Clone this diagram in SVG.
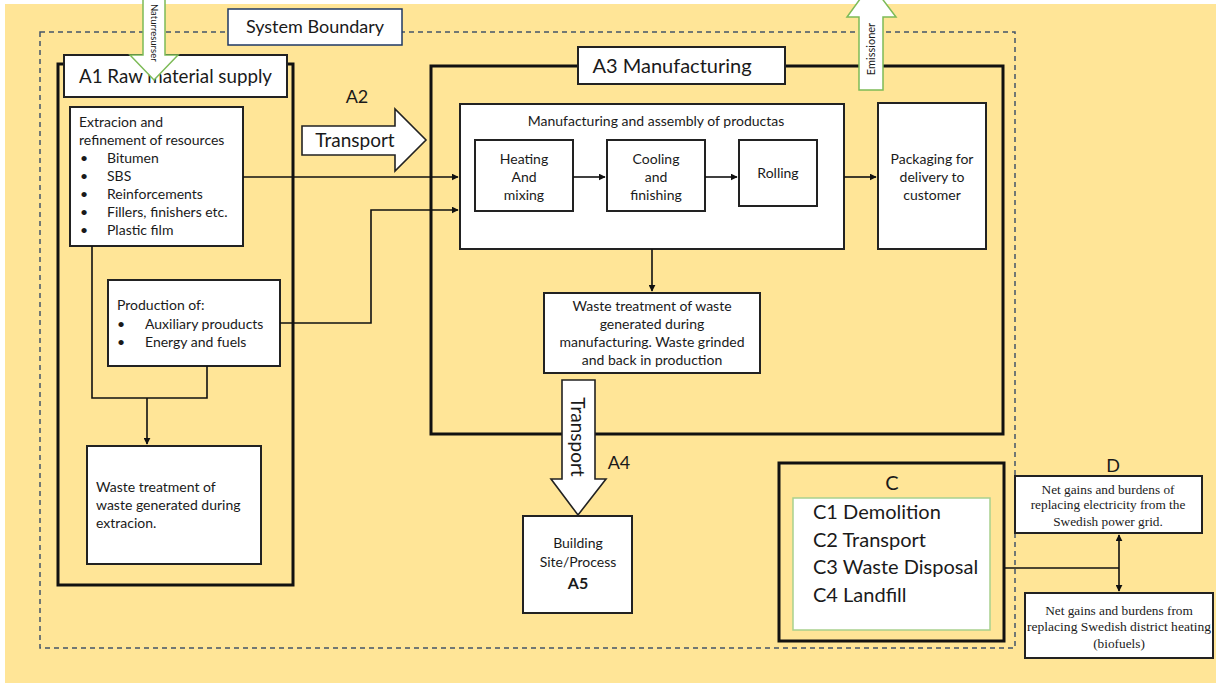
<svg xmlns="http://www.w3.org/2000/svg" width="1216" height="683" viewBox="0 0 1216 683">
<defs>
<style>
.t{font-family:Lato,"Liberation Sans",sans-serif;fill:#1a1a1a}
.b{font-size:14px}
.s{font-family:"Liberation Serif",serif;fill:#1a1a1a;font-size:13.3px}
.box{fill:#fff;stroke:#222;stroke-width:2}
.big{fill:none;stroke:#111;stroke-width:3}
.ln{fill:none;stroke:#111;stroke-width:1.6}
.blk{fill:#fff;stroke:#222;stroke-width:1.6}
.grn{fill:#fff;stroke:#7dbb57;stroke-width:1.5}
</style>
<marker id="ah" viewBox="0 0 10 10" refX="9" refY="5" markerWidth="7" markerHeight="7" markerUnits="userSpaceOnUse" orient="auto-start-reverse"><path d="M0,0 L10,5 L0,10 z" fill="#111"/></marker>
</defs>
<rect x="0" y="0" width="1216" height="683" fill="#fff"/>
<rect x="5" y="4" width="1211" height="679" fill="#ffe597"/>
<rect id="system-boundary" x="40" y="32" width="975" height="616" fill="none" stroke="#44546a" stroke-width="1.5" stroke-dasharray="5 4"/>
<g id="boundary-label"><rect x="228" y="9" width="174" height="36" fill="#fff" stroke="#1f3864" stroke-width="1.5"/><text class="t" x="315" y="33" font-size="18" text-anchor="middle">System Boundary</text></g>

<g id="A1">
<rect class="big" x="58" y="64" width="235" height="521"/>
<rect class="box" x="64" y="55" width="223" height="42"/>
<text class="t" x="79" y="83" font-size="19" textLength="193" lengthAdjust="spacingAndGlyphs">A1 Raw material supply</text>
</g>
<g id="extraction"><rect class="box" x="70" y="107" width="173" height="139" stroke-width="1.6"/>
<g class="t b"><text x="79" y="127">Extracion and</text><text x="79" y="145">refinement of resources</text>
<text x="80" y="163">•</text><text x="107" y="163">Bitumen</text>
<text x="80" y="181">•</text><text x="107" y="181">SBS</text>
<text x="80" y="199">•</text><text x="107" y="199">Reinforcements</text>
<text x="80" y="217">•</text><text x="107" y="217">Fillers, finishers etc.</text>
<text x="80" y="235">•</text><text x="107" y="235">Plastic film</text></g></g>
<g id="production"><rect class="box" x="108" y="280" width="172" height="86" stroke-width="1.6"/>
<g class="t b"><text x="117" y="310">Production of:</text>
<text x="117" y="329">•</text><text x="145" y="329">Auxiliary prouducts</text>
<text x="117" y="347">•</text><text x="145" y="347">Energy and fuels</text></g></g>
<g id="waste-extraction"><rect class="box" x="87" y="446" width="174" height="118" stroke-width="1.6"/>
<g class="t b"><text x="96" y="492">Waste treatment of</text><text x="96" y="510">waste generated during</text><text x="96" y="528">extracion.</text></g></g>

<g id="A2-transport">
<text class="t" x="357" y="103" font-size="18" text-anchor="middle">A2</text>
<path class="blk" d="M302,126 L395,126 L395,109 L426,140 L395,171 L395,155 L302,155 z"/>
<text class="t" x="355" y="147" font-size="19" text-anchor="middle">Transport</text>
</g>

<g id="A3">
<rect class="big" x="431" y="66" width="572" height="368"/>
<rect class="box" x="578" y="47" width="207" height="37"/>
<text class="t" x="672" y="73" font-size="20" text-anchor="middle">A3 Manufacturing</text>
</g>
<g id="manufacturing"><rect class="box" x="460" y="104" width="384" height="145"/>
<text class="t b" x="656" y="126" text-anchor="middle">Manufacturing and assembly of productas</text></g>
<g id="heating"><rect class="box" x="475" y="140" width="98" height="71" stroke-width="1.6"/>
<g class="t b" text-anchor="middle"><text x="524" y="164">Heating</text><text x="524" y="182">And</text><text x="524" y="200">mixing</text></g></g>
<g id="cooling"><rect class="box" x="607" y="140" width="98" height="71" stroke-width="1.6"/>
<g class="t b" text-anchor="middle"><text x="656" y="164">Cooling</text><text x="656" y="182">and</text><text x="656" y="200">finishing</text></g></g>
<g id="rolling"><rect class="box" x="739" y="140" width="78" height="66" stroke-width="1.6"/>
<text class="t b" x="778" y="178" text-anchor="middle">Rolling</text></g>
<g id="packaging"><rect class="box" x="878" y="103" width="108" height="146" stroke-width="1.6"/>
<g class="t b" text-anchor="middle"><text x="932" y="164">Packaging for</text><text x="932" y="182">delivery to</text><text x="932" y="200">customer</text></g></g>
<g id="waste-manufacturing"><rect class="box" x="544" y="293" width="216" height="80" stroke-width="1.6"/>
<g class="t b" text-anchor="middle"><text x="652" y="311">Waste treatment of waste</text><text x="652" y="329">generated during</text><text x="652" y="347">manufacturing. Waste grinded</text><text x="652" y="365">and back in production</text></g></g>

<g id="A4-transport">
<path class="blk" d="M562,380 L595,380 L595,479 L606,479 L578,515 L551,479 L562,479 z"/>
<text class="t" transform="translate(571,437) rotate(90)" font-size="19" text-anchor="middle">Transport</text>
<text class="t" x="619" y="469" font-size="18" text-anchor="middle">A4</text>
</g>
<g id="A5"><rect class="box" x="523" y="516" width="109" height="97"/>
<g class="t b" text-anchor="middle"><text x="578" y="548">Building</text><text x="578" y="567">Site/Process</text><text x="578" y="589" font-size="16" font-weight="bold">A5</text></g></g>

<g id="C">
<rect class="big" x="779" y="463" width="225" height="178"/>
<text class="t" x="892" y="490" font-size="20" text-anchor="middle">C</text>
<rect x="793" y="498" width="197" height="132" fill="#fff" stroke="#a9d18e" stroke-width="1.5"/>
<g class="t" font-size="20"><text x="813" y="519">C1 Demolition</text><text x="813" y="547">C2 Transport</text><text x="813" y="574">C3 Waste Disposal</text><text x="813" y="602">C4 Landfill</text></g>
</g>
<g id="D">
<text class="t" x="1113" y="472" font-size="18" text-anchor="middle">D</text>
</g>
<g id="D1"><rect class="box" x="1015" y="476" width="187" height="57" stroke-width="1.6"/>
<g class="s" text-anchor="middle"><text x="1108" y="494">Net gains and burdens of</text><text x="1108" y="509">replacing electricity from the</text><text x="1108" y="526">Swedish power grid.</text></g></g>
<g id="D2"><rect class="box" x="1025" y="593" width="188" height="65" stroke-width="1.6"/>
<g class="s" text-anchor="middle"><text x="1119" y="615">Net gains and burdens from</text><text x="1119" y="631" textLength="184" lengthAdjust="spacingAndGlyphs">replacing Swedish district heating</text><text x="1119" y="648">(biofuels)</text></g></g>

<g id="connectors">
<path class="ln" d="M243,177 L458,177" marker-end="url(#ah)"/>
<path class="ln" d="M280,323 L371,323 L371,210 L458,210" marker-end="url(#ah)"/>
<path class="ln" d="M92,246 L92,398 L207,398 L207,366"/>
<path class="ln" d="M147,398 L147,444" marker-end="url(#ah)"/>
<path class="ln" d="M573,177 L605,177" marker-end="url(#ah)"/>
<path class="ln" d="M705,177 L737,177" marker-end="url(#ah)"/>
<path class="ln" d="M844,177 L876,177" marker-end="url(#ah)"/>
<path class="ln" d="M652,249 L652,291" marker-end="url(#ah)"/>
<path class="ln" d="M1004,568 L1119,568"/>
<path class="ln" d="M1119,535 L1119,591" marker-start="url(#ah)" marker-end="url(#ah)"/>
</g>

<g id="naturresurser">
<path class="grn" d="M143,-2 L165,-2 L165,55 L178,55 L154,80 L130,55 L143,55 z"/>
<text class="t" transform="translate(150.5,4) rotate(90)" font-size="9.5">Naturresurser</text>
</g>
<g id="emissioner">
<path class="grn" d="M859,90 L883,90 L883,17 L896,17 L871,-16 L847,17 L859,17 z"/>
<text class="t" transform="translate(875,49) rotate(-90)" font-size="11" text-anchor="middle">Emissioner</text>
</g>
</svg>
